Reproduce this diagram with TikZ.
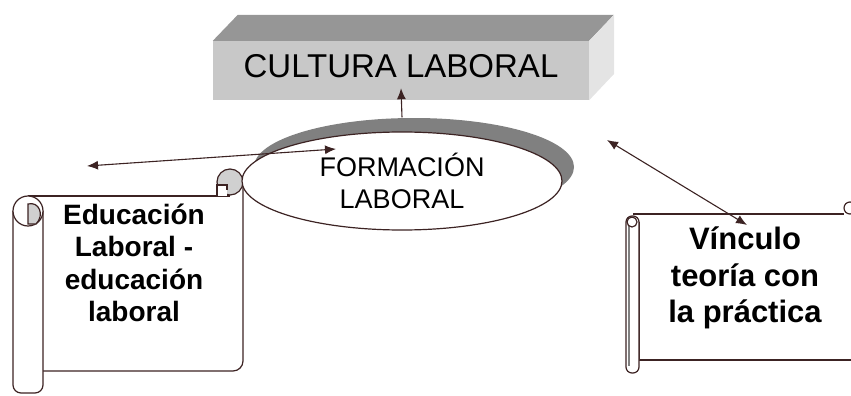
\documentclass[tikz,border=0pt]{standalone}
\usepackage{fontspec}
\setmainfont{Liberation Sans}
\usetikzlibrary{arrows.meta,shapes.geometric,shadows}
\definecolor{trazo}{RGB}{60,35,35}
\definecolor{frente}{RGB}{200,200,200}
\definecolor{techo}{RGB}{150,150,150}
\definecolor{lado}{RGB}{228,228,228}
\definecolor{sombra}{RGB}{128,128,128}
\definecolor{rollo}{RGB}{208,208,208}
\tikzset{
  borde/.style={draw=trazo, line width=1.2pt},
  hoja/.style={borde, fill=white},
  flecha/.style={draw=trazo, line width=1.1pt, -{Latex[length=11pt,width=9pt]}},
  dobleflecha/.style={flecha, {Latex[length=11pt,width=9pt]}-{Latex[length=11pt,width=9pt]}},
  rotulo/.style={font=\fontsize{28}{32.3}\selectfont\bfseries, align=center, inner sep=0pt},
}
\begin{document}
\begin{tikzpicture}[x=1pt,y=-1pt]
\useasboundingbox (0,0) rectangle (851,396);
\clip (0,0) rectangle (851,396);

% caja de cultura laboral
\node[fill=frente, minimum width=376pt, minimum height=59pt, inner sep=0pt,
      text depth=8.6pt, font=\fontsize{33}{36}\selectfont] (cultura) at (401,70.5) {CULTURA LABORAL};
\fill[techo] (cultura.north west) -- ++(25,-26) -- ++(376,0) -- (cultura.north east) -- cycle;
\fill[lado] (cultura.north east) -- ++(25,-26) -- ++(0,59) -- (cultura.south east) -- cycle;

% pergamino izquierdo
\fill[white] (28,196) rectangle (243,371);
\draw[borde] (28,196) -- (230,196);
\draw[borde, rounded corners=10pt] (243,182) -- (243,371) -- (43,371);
\draw[hoja, rounded corners=8pt] (43,211) -- (43,393) -- (13,393) -- (13,211);
\draw[hoja] (28,211) circle (15pt);
\filldraw[borde, fill=rollo] (28,224) -- (28,204) .. controls (39,201) and (45,215) .. (36,224) -- cycle;
\filldraw[borde, fill=rollo] (230,182) circle (13pt);
\fill[white] (217,185) rectangle (227,196);
\draw[borde] (217,196) -- (217,185) -- (227,185) -- (227,190);
\node[rotulo] (educacion) at (134,263) {Educación\\Laboral -\\educación\\laboral};

% pergamino derecho
\fill[white] (633,214) rectangle (860,360);
\draw[borde] (633,214) -- (844,214);
\draw[borde] (639,222) -- (639,360) -- (860,360);
\draw[hoja, rounded corners=6pt] (626,216) rectangle (639,373);
\draw[gray, line width=2pt] (628.5,224) -- (628.5,366);
\draw[hoja] (632,222) circle (5pt);
\draw[hoja] (850,208) circle (6pt);
\node[rotulo, font=\fontsize{31}{36.5}\selectfont\bfseries] (vinculo) at (745,278) {Vínculo\\teoría con\\la práctica};

% formacion laboral
\node[ellipse, hoja, minimum width=320pt, minimum height=98pt,
      drop shadow={shadow xshift=12pt, shadow yshift=14pt, fill=sombra, opacity=1},
      font=\fontsize{27}{32}\selectfont, align=center] (formacion) at (402,181) {FORMACIÓN\\LABORAL};

% flechas
\coordinate (izq) at (87,166);
\coordinate (centro) at (336,149);
\coordinate (der) at (607,140);
\coordinate (abajo) at (747,225);
\draw[flecha] ([yshift=14pt]formacion.north) -- ([yshift=12pt]cultura.south);
\draw[dobleflecha] (izq) -- (centro);
\draw[dobleflecha] (der) -- (abajo);
\end{tikzpicture}
\end{document}
